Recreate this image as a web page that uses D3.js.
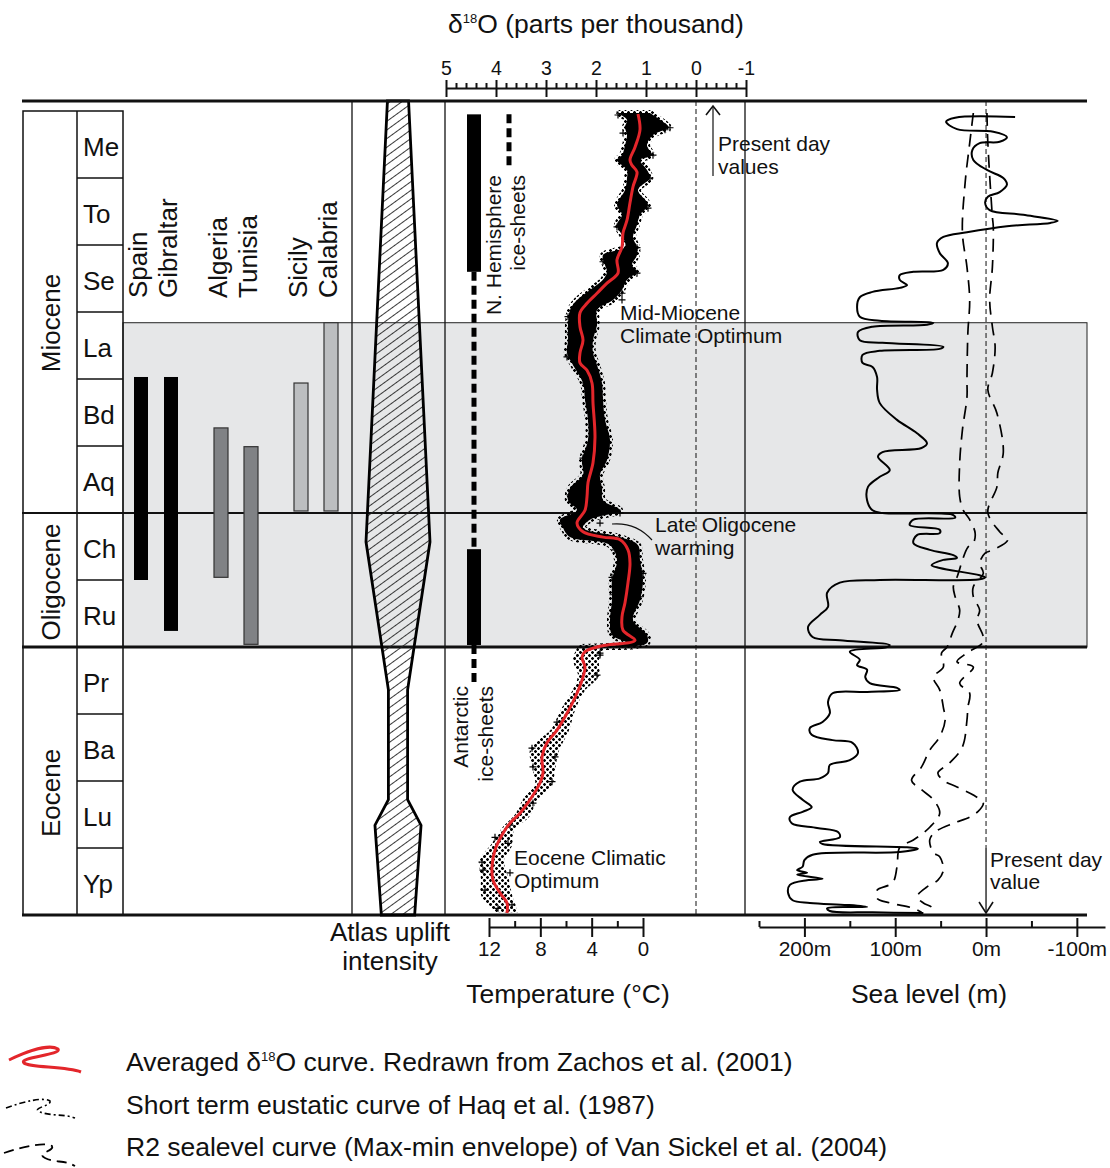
<!DOCTYPE html>
<html><head><meta charset="utf-8">
<script src="https://cdnjs.cloudflare.com/ajax/libs/d3/7.8.5/d3.min.js"></script>
<style>
body{margin:0;background:#fff;}
svg text{font-family:"Liberation Sans",Arial,Helvetica,sans-serif;fill:#111;}
</style></head><body>
<svg id="chart" width="1110" height="1168"></svg>
<script>
// ---------- DATA (vertical unit: stage level, 0 = top Messinian, each stage = 1) ----------
const stages = ["Me","To","Se","La","Bd","Aq","Ch","Ru","Pr","Ba","Lu","Yp"];
const epochs = [["Miocene",0,6],["Oligocene",6,8],["Eocene",8,12]];
const shadedInterval = [3.16, 8];
const regions = [
  {name:"Spain",     from:3.97, to:7.00, group:1},
  {name:"Gibraltar", from:3.97, to:7.76, group:1},
  {name:"Algeria",   from:4.73, to:6.96, group:2},
  {name:"Tunisia",   from:5.01, to:7.96, group:2},
  {name:"Sicily",    from:4.06, to:5.97, group:3},
  {name:"Calabria",  from:3.16, to:5.97, group:3}
];
const atlasUplift = [[-0.15,0.33],[6.43,1.0],[8.64,0.30],[10.28,0.30],[10.66,0.72],[12,0.52]];
const antarcticIce = [[0.05,2.40,"full"],[2.40,6.54,"partial"],[6.54,7.97,"full"],[7.97,8.54,"partial"]];
const northIce = [[0.05,0.88,"partial"]];
const d18oTicks = [5,4,3,2,1,0,-1];
const tempTicks = [12,8,4,0];
const tempMinor = [10,6,2];
const seaTicks = [200,100,0,-100];
const seaTickLabels = ["200m","100m","0m","-100m"];
const seaMinor = [250,150,50,-50];

const d18oMean = [[0.045,1.16],[0.28,1.12],[0.54,1.22],[0.73,1.32],[0.81,1.28],[0.91,1.18],[1.13,1.26],[1.37,1.32],[1.63,1.38],[1.82,1.46],[2.03,1.48],[2.22,1.58],[2.42,1.56],[2.57,1.78],[2.72,1.98],[2.87,2.18],[3.01,2.32],[3.22,2.32],[3.42,2.26],[3.61,2.32],[3.76,2.32],[3.87,2.18],[4.06,2.08],[4.36,2.06],[4.87,2.02],[5.25,2.06],[5.55,2.16],[5.76,2.18],[5.96,2.22],[6.15,2.38],[6.28,2.26],[6.36,1.86],[6.40,1.52],[6.55,1.36],[6.75,1.32],[7.04,1.36],[7.34,1.42],[7.55,1.48],[7.75,1.46],[7.90,1.22],[7.97,1.78],[8.0,1.98],[8.07,2.22],[8.15,2.28],[8.30,2.22],[8.45,2.26],[8.69,2.38],[8.99,2.58],[9.24,2.78],[9.43,2.98],[9.64,3.08],[9.88,3.06],[10.03,3.12],[10.28,3.32],[10.48,3.52],[10.63,3.72],[10.78,3.86],[11.03,4.02],[11.28,4.08],[11.48,4.06],[11.67,3.92],[11.82,3.78],[11.97,3.78]];
// [level, max δ18O (left edge), min δ18O (right edge)]
const d18oSpreadDense = [[0.03,1.58,0.92],[0.13,1.38,0.72],[0.24,1.42,0.55],[0.36,1.38,0.86],[0.51,1.42,0.98],[0.66,1.48,0.88],[0.73,1.58,1.12],[0.88,1.38,0.98],[1.00,1.38,0.92],[1.18,1.42,1.16],[1.40,1.58,0.96],[1.55,1.48,1.12],[1.70,1.58,1.18],[1.88,1.46,1.26],[2.03,1.42,1.18],[2.15,1.86,1.18],[2.30,1.82,1.28],[2.40,1.78,1.18],[2.52,1.86,1.38],[2.67,2.12,1.48],[2.82,2.38,1.66],[2.97,2.52,1.98],[3.19,2.56,1.98],[3.42,2.56,2.06],[3.61,2.58,2.06],[3.79,2.46,1.98],[4.06,2.26,1.88],[4.31,2.22,1.86],[4.61,2.16,1.82],[4.91,2.16,1.72],[5.21,2.28,1.78],[5.43,2.26,1.92],[5.63,2.52,1.88],[5.81,2.56,1.86],[5.96,2.38,1.52],[6.10,2.72,2.12],[6.22,2.66,2.26],[6.36,2.52,1.52],[6.48,1.72,1.16],[6.70,1.58,1.12],[7.00,1.68,1.06],[7.30,1.68,1.12],[7.60,1.72,1.26],[7.82,1.68,0.98],[7.94,1.38,0.98],[8.00,2.32,1.86]];
const d18oSpreadSparse = [[8.00,2.32,1.86],[8.19,2.42,1.98],[8.42,2.32,1.98],[8.64,2.42,2.26],[8.94,2.66,2.46],[9.24,2.86,2.58],[9.54,3.28,2.78],[9.84,3.22,2.86],[10.06,3.18,2.92],[10.28,3.42,3.22],[10.51,3.58,3.36],[10.73,3.86,3.68],[10.96,4.06,3.72],[11.18,4.28,3.88],[11.48,4.26,3.78],[11.70,4.26,3.72],[11.93,3.98,3.62]];
const d18oOutliers = [[0.06,1.56],[0.33,1.46],[0.25,0.52],[0.28,0.62],[0.73,1.52],[0.66,0.86],[0.99,1.02],[1.00,0.92],[0.81,1.38],[1.45,1.52],[1.45,0.96],[1.73,1.58],[2.04,1.18],[2.25,1.86],[2.42,1.18],[2.72,1.48],[2.82,1.48],[3.07,2.56],[3.31,2.52],[3.67,2.58],[3.27,2.06],[4.06,2.22],[5.18,2.26],[5.21,1.86],[5.73,2.52],[6.00,1.52],[6.15,1.92],[6.55,1.62],[6.73,1.48],[6.90,1.06],[7.22,1.66],[6.96,1.68],[7.25,1.12],[8.09,1.92],[8.12,1.92],[8.42,1.98],[9.12,2.78],[9.51,3.28],[9.64,2.82],[9.79,3.26],[10.01,2.88],[10.33,3.26],[10.66,3.72],[10.93,3.76],[10.84,4.02],[11.21,4.28],[11.33,4.26],[11.37,3.72],[11.63,4.22],[11.85,3.68],[11.90,3.96]];

// sea level (m) — [level, metres]
const haqShortTerm = [[0.09,-32],[0.10,34],[0.16,44],[0.27,32],[0.31,-8],[0.39,-23],[0.46,-15],[0.48,7],[0.58,15],[0.73,14],[0.88,-1],[1.00,-19],[1.10,-23],[1.21,-15],[1.28,-2],[1.37,1],[1.48,-4],[1.55,-41],[1.64,-79],[1.67,-71],[1.72,-23],[1.81,21],[1.88,47],[1.97,54],[2.12,51],[2.27,42],[2.37,47],[2.40,80],[2.45,95],[2.52,95],[2.60,87],[2.64,95],[2.70,125],[2.78,139],[2.93,142],[3.07,139],[3.13,117],[3.16,58],[3.19,65],[3.22,125],[3.30,141],[3.42,139],[3.46,114],[3.52,47],[3.55,51],[3.58,117],[3.64,136],[3.76,136],[3.82,125],[3.97,120],[4.16,120],[4.36,117],[4.61,98],[4.81,76],[4.96,65],[5.03,71],[5.09,114],[5.16,119],[5.36,106],[5.46,117],[5.61,130],[5.81,131],[5.96,125],[6.00,114],[6.03,36],[6.07,34],[6.10,80],[6.18,84],[6.25,51],[6.30,51],[6.33,76],[6.45,80],[6.55,62],[6.63,36],[6.67,32],[6.70,47],[6.78,60],[6.82,51],[6.93,7],[6.96,1],[6.99,7],[7.00,117],[7.04,161],[7.19,175],[7.40,174],[7.52,183],[7.70,196],[7.85,191],[7.90,161],[7.97,106],[8.00,109],[8.07,150],[8.19,139],[8.27,142],[8.34,131],[8.45,133],[8.54,128],[8.61,98],[8.64,95],[8.67,131],[8.69,169],[8.82,174],[8.99,172],[9.12,180],[9.21,194],[9.31,192],[9.39,169],[9.43,147],[9.58,141],[9.69,150],[9.76,172],[9.88,174],[9.96,183],[10.01,205],[10.13,213],[10.28,202],[10.39,192],[10.46,202],[10.54,216],[10.63,214],[10.70,186],[10.76,163],[10.84,161],[10.91,183],[10.94,180],[10.99,87],[11.01,75],[11.06,95],[11.10,191],[11.18,200],[11.28,202],[11.33,208],[11.37,197],[11.40,208],[11.46,180],[11.48,197],[11.55,216],[11.67,218],[11.78,213],[11.82,194],[11.85,153],[11.88,131],[11.90,175],[11.94,172],[11.96,125],[11.97,69]];
const vanSickelMax = [[0.03,14],[0.48,18],[1.07,23],[1.82,26],[2.33,21],[2.82,18],[3.31,20],[4.01,21],[4.27,21],[4.76,26],[5.25,29],[5.76,29],[5.96,25],[6.10,18],[6.30,12],[6.45,14],[6.51,20],[6.96,32],[7.10,36],[7.25,34],[7.45,29],[7.60,31],[7.79,37],[8.00,43],[8.09,49],[8.30,47],[8.45,58],[8.64,51],[8.90,47],[9.09,45],[9.34,51],[9.54,62],[9.79,71],[9.99,82],[10.13,71],[10.28,58],[10.48,51],[10.69,62],[10.88,80],[10.99,95],[11.28,98],[11.52,103],[11.63,120],[11.75,120],[11.82,106],[11.90,80],[11.96,71]];
const vanSickelMin = [[0.03,-1],[0.48,-2],[1.58,-7],[1.73,-8],[2.33,-7],[2.82,-4],[3.22,-7],[3.52,-10],[3.91,-7],[4.16,-2],[4.51,-12],[5.10,-19],[5.40,-13],[5.61,-12],[5.99,-2],[6.28,-15],[6.40,-24],[6.55,-8],[6.60,1],[6.75,7],[6.90,3],[7.10,14],[7.25,14],[7.45,7],[7.60,10],[7.85,3],[7.94,4],[8.09,21],[8.22,32],[8.30,14],[8.54,29],[8.69,18],[8.90,20],[9.09,21],[9.49,26],[9.73,40],[9.88,53],[9.99,47],[10.09,32],[10.21,14],[10.33,3],[10.43,7],[10.54,18],[10.63,36],[10.76,56],[10.88,62],[11.07,58],[11.13,51],[11.33,47],[11.48,53],[11.58,65],[11.73,76],[11.82,69],[11.88,60],[11.96,54]];

// ---------- RENDER ----------
const FONT = '"Liberation Sans",Arial,Helvetica,sans-serif';
const svg = d3.select("#chart");
const y  = d3.scaleLinear().domain([0,12]).range([111,915]);
const x18 = d3.scaleLinear().domain([5,-1]).range([446,746]);
const xT = d3.scaleLinear().domain([12,0]).range([489,643]);
const xS = d3.scaleLinear().domain([250,-131]).range([759,1105]);
const xA = d3.scaleLinear().domain([-1,1]).range([366,430]);
const TOP = 101, LEFT = 22, RIGHT = 1087, INK = "#111";
const BIG = 26.5, LAB = 26, ANN = 21;

const defs = svg.append("defs");
const hatch = defs.append("pattern").attr("id","hatch").attr("patternUnits","userSpaceOnUse")
  .attr("width",10).attr("height",7).attr("patternTransform","rotate(-36)");
hatch.append("line").attr("x1",0).attr("x2",10).attr("y1",3.5).attr("y2",3.5).attr("stroke","#222").attr("stroke-width",0.9);
const crossPat = defs.append("pattern").attr("id","crosses").attr("patternUnits","userSpaceOnUse")
  .attr("width",6).attr("height",6);
crossPat.append("path").attr("d","M0,1.5H3M1.5,0V3M3,4.5H6M4.5,3V6").attr("stroke","#000").attr("stroke-width",1.3);

function hline(yy,x1,x2,w){svg.append("line").attr("x1",x1).attr("x2",x2).attr("y1",yy).attr("y2",yy).attr("stroke",INK).attr("stroke-width",w);}
function vline(xx,y1,y2,w,dash){const l=svg.append("line").attr("x1",xx).attr("x2",xx).attr("y1",y1).attr("y2",y2).attr("stroke",INK).attr("stroke-width",w); if(dash) l.attr("stroke-dasharray",dash); return l;}
function text(t,x,yy,size,opts={}){const e=svg.append("text").attr("x",x).attr("y",yy).attr("font-size",size).text(t); if(opts.anchor) e.attr("text-anchor",opts.anchor); return e;}

// shaded interval
svg.append("rect").attr("x",123).attr("y",y(shadedInterval[0])).attr("width",RIGHT-123)
  .attr("height",y(shadedInterval[1])-y(shadedInterval[0])).attr("fill","#e6e7e8").attr("stroke","#222").attr("stroke-width",1);

// frame
vline(352,TOP,y(12),1.3); vline(445,TOP,y(12),1.3); vline(745,TOP,y(12),1.3);
svg.append("rect").attr("x",23).attr("y",y(0)).attr("width",100).attr("height",y(12)-y(0)).attr("fill","none").attr("stroke",INK).attr("stroke-width",1.5);
vline(77,y(0),y(12),1.5);
d3.range(1,12).filter(i=>i!==6&&i!==8).forEach(i=>hline(y(i),77,123,1.3));
hline(y(12),LEFT,RIGHT,3); hline(y(8),LEFT,RIGHT,3); hline(y(6),LEFT,RIGHT,1.8);

// stage & epoch labels
stages.forEach((s,i)=>text(s,83,y(i+0.5)+2,LAB).attr("dy","0.36em"));
const epochNudge = {Miocene:11, Oligocene:2, Eocene:12};
epochs.forEach(([n,a,b])=>{
  const cy = y((a+b)/2)+epochNudge[n];
  text(n,0,0,LAB,{anchor:"middle"}).attr("transform",`translate(51,${cy}) rotate(-90)`).attr("dy","0.36em");
});

// regional ranges
const pairX = d3.scalePoint().domain([0,1,2]).range([156,316]);
const tone = {1:"#000",2:"#808285",3:"#bcbec0"};
regions.forEach((r,i)=>{
  const cx = pairX(Math.floor(i/2)) + (i%2 ? 15 : -15);
  svg.append("rect").attr("x",cx-7).attr("width",14).attr("y",y(r.from)).attr("height",y(r.to)-y(r.from))
    .attr("fill",tone[r.group]).attr("stroke",r.group===1?"none":"#333").attr("stroke-width",1.2);
  text(r.name,0,0,LAB).attr("transform",`translate(${cx-3},298) rotate(-90)`).attr("dy","0.36em");
});

// Atlas uplift
svg.append("path").datum(atlasUplift)
  .attr("d",d3.area().y(d=>y(d[0])).x0(d=>xA(-d[1])).x1(d=>xA(d[1])))
  .attr("fill","url(#hatch)").attr("stroke","#000").attr("stroke-width",2.8).attr("stroke-linejoin","miter");
hline(TOP,LEFT,RIGHT,3);
text("Atlas uplift",390,941,LAB,{anchor:"middle"});
text("intensity",390,970,LAB,{anchor:"middle"});

// ice sheets
function iceColumn(data,cx){
  data.forEach(([a,b,k])=>{
    if(k==="full") svg.append("rect").attr("x",cx-7).attr("width",14).attr("y",y(a)).attr("height",y(b)-y(a)).attr("fill","#000");
    else vline(cx,y(a),y(b),5,"9,5").attr("stroke","#000");
  });
}
iceColumn(antarcticIce,474);
iceColumn(northIce,509);
[["N. Hemisphere",493,175],["ice-sheets",517,175],["Antarctic",460,686],["ice-sheets",485,686]].forEach(([t,xx,yy])=>
  text(t,0,0,ANN,{anchor:"end"}).attr("transform",`translate(${xx},${yy}) rotate(-90)`).attr("dy","0.36em"));

// δ18O zero line & present-day arrow
vline(x18(0),TOP,y(12),1,"5,3");
vline(713,106,176,1.2);
svg.append("path").attr("d","M706,115L713,106L720,115").attr("fill","none").attr("stroke",INK).attr("stroke-width",1.6);
text("Present day",718,151,ANN); text("values",718,174,ANN);

// δ18O scatter and mean
const spreadArea = d3.area().y(d=>y(d[0])).x0(d=>x18(d[1])).x1(d=>x18(d[2])).curve(d3.curveCatmullRom.alpha(0.5));
svg.append("path").datum(d18oSpreadDense).attr("d",spreadArea).attr("fill","#000").attr("stroke","url(#crosses)").attr("stroke-width",6);
svg.append("path").datum(d18oSpreadSparse).attr("d",spreadArea).attr("fill","url(#crosses)").attr("stroke","url(#crosses)").attr("stroke-width",4);
svg.append("g").selectAll("path").data(d18oOutliers).join("path")
  .attr("d",d=>`M${x18(d[1])-3.5},${y(d[0])}h7M${x18(d[1])},${y(d[0])-3.5}v7`)
  .attr("stroke","#000").attr("stroke-width",1.2);
svg.append("path").datum(d18oMean)
  .attr("d",d3.line().x(d=>x18(d[1])).y(d=>y(d[0])).curve(d3.curveCatmullRom.alpha(0.5)))
  .attr("fill","none").attr("stroke","#e3262b").attr("stroke-width",3).attr("stroke-linejoin","round");

text("Mid-Miocene",620,320,ANN); text("Climate Optimum",620,343,ANN);
text("Late Oligocene",655,532,ANN); text("warming",655,555,ANN);
svg.append("path").attr("d","M652,540Q636,522 612,524").attr("fill","none").attr("stroke",INK).attr("stroke-width",1.2);
text("Eocene Climatic",514,865,ANN); text("Optimum",514,888,ANN);

// sea level
const seaLine = d3.line().x(d=>xS(d[1])).y(d=>y(d[0])).curve(d3.curveCatmullRom.alpha(0.5));
vline(xS(0),TOP,848,1,"5,3");
vline(xS(0),848,912,1.3);
svg.append("path").attr("d",`M${xS(0)-7},902L${xS(0)},913L${xS(0)+7},902`).attr("fill","none").attr("stroke",INK).attr("stroke-width",1.6);
text("Present day",990,867,ANN); text("value",990,889,ANN);
[vanSickelMax,vanSickelMin].forEach(d=>svg.append("path").datum(d).attr("d",seaLine)
  .attr("fill","none").attr("stroke","#000").attr("stroke-width",1.7).attr("stroke-dasharray","13,8"));
svg.append("path").datum(haqShortTerm).attr("d",seaLine)
  .attr("fill","none").attr("stroke","#000").attr("stroke-width",2).attr("stroke-linejoin","round");

// axes
function styleAxis(g,size){g.attr("font-family",FONT).attr("font-size",size);
  g.selectAll("path,line").attr("stroke",INK).attr("stroke-width",2); g.selectAll("text").attr("fill",INK);}
function bare(g){g.select(".domain").remove(); g.selectAll("line").attr("stroke",INK).attr("stroke-width",2);}
const d18oMinor = d3.range(31).map(i=>5-i*0.2).filter(v=>Math.abs(v-Math.round(v))>0.01);
svg.append("g").attr("transform","translate(0,88)").call(d3.axisTop(x18).tickValues(d18oMinor).tickSize(5).tickFormat("")).call(bare);
svg.append("g").attr("transform","translate(0,88)").call(d3.axisBottom(x18).tickValues(d18oTicks).tickSize(9).tickFormat("")).call(bare);
svg.append("g").attr("transform","translate(0,88)")
  .call(d3.axisTop(x18).tickValues(d18oTicks).tickSizeInner(8).tickSizeOuter(0).tickPadding(5).tickFormat(d=>String(d)))
  .call(g=>styleAxis(g,19.5));
svg.append("g").attr("transform","translate(0,927)").call(d3.axisTop(xT).tickValues(tempMinor).tickSize(6).tickFormat("")).call(bare);
svg.append("g").attr("transform","translate(0,927)").call(d3.axisTop(xT).tickValues(tempTicks).tickSize(9).tickFormat("")).call(bare);
svg.append("g").attr("transform","translate(0,927)")
  .call(d3.axisBottom(xT).tickValues(tempTicks).tickSizeInner(10).tickSizeOuter(0).tickPadding(4).tickFormat(d=>String(d)))
  .call(g=>styleAxis(g,20.5));
svg.append("g").attr("transform","translate(0,927)").call(d3.axisTop(xS).tickValues(seaMinor).tickSize(6).tickFormat("")).call(bare);
svg.append("g").attr("transform","translate(0,927)").call(d3.axisTop(xS).tickValues(seaTicks).tickSize(9).tickFormat("")).call(bare);
svg.append("g").attr("transform","translate(0,927)")
  .call(d3.axisBottom(xS).tickValues(seaTicks).tickSizeInner(10).tickSizeOuter(0).tickPadding(4).tickFormat((d,i)=>seaTickLabels[i]))
  .call(g=>styleAxis(g,21));

// titles
const t1 = text("δ",596,33,BIG,{anchor:"middle"});
t1.append("tspan").attr("font-size",13).attr("dy",-10).text("18");
t1.append("tspan").attr("dy",10).text("O (parts per thousand)");
text("Temperature (°C)",568,1003,BIG,{anchor:"middle"});
text("Sea level (m)",929,1003,BIG,{anchor:"middle"});

// legend
svg.append("path").attr("d","M9,1060C30,1050 50,1044 58,1049C62,1055 18,1057 24,1063C30,1068 65,1066 81,1072")
  .attr("fill","none").attr("stroke","#e3262b").attr("stroke-width",3);
svg.append("path").attr("d","M6,1108C25,1101 44,1097 50,1101C52,1106 30,1108 40,1112C50,1116 65,1114 75,1118")
  .attr("fill","none").attr("stroke","#000").attr("stroke-width",1.6).attr("stroke-dasharray","6,3,2,3");
svg.append("path").attr("d","M4,1153C25,1146 45,1142 52,1146C55,1151 35,1153 45,1158C55,1163 65,1160 75,1166")
  .attr("fill","none").attr("stroke","#000").attr("stroke-width",1.8).attr("stroke-dasharray","10,6");
const l1 = text("Averaged δ",126,1071,BIG);
l1.append("tspan").attr("font-size",13).attr("dy",-10).text("18");
l1.append("tspan").attr("dy",10).text("O curve. Redrawn from Zachos et al. (2001)");
text("Short term eustatic curve of Haq et al. (1987)",126,1114,BIG);
text("R2 sealevel curve (Max-min envelope) of Van Sickel et al. (2004)",126,1156,BIG);
</script></body></html>
